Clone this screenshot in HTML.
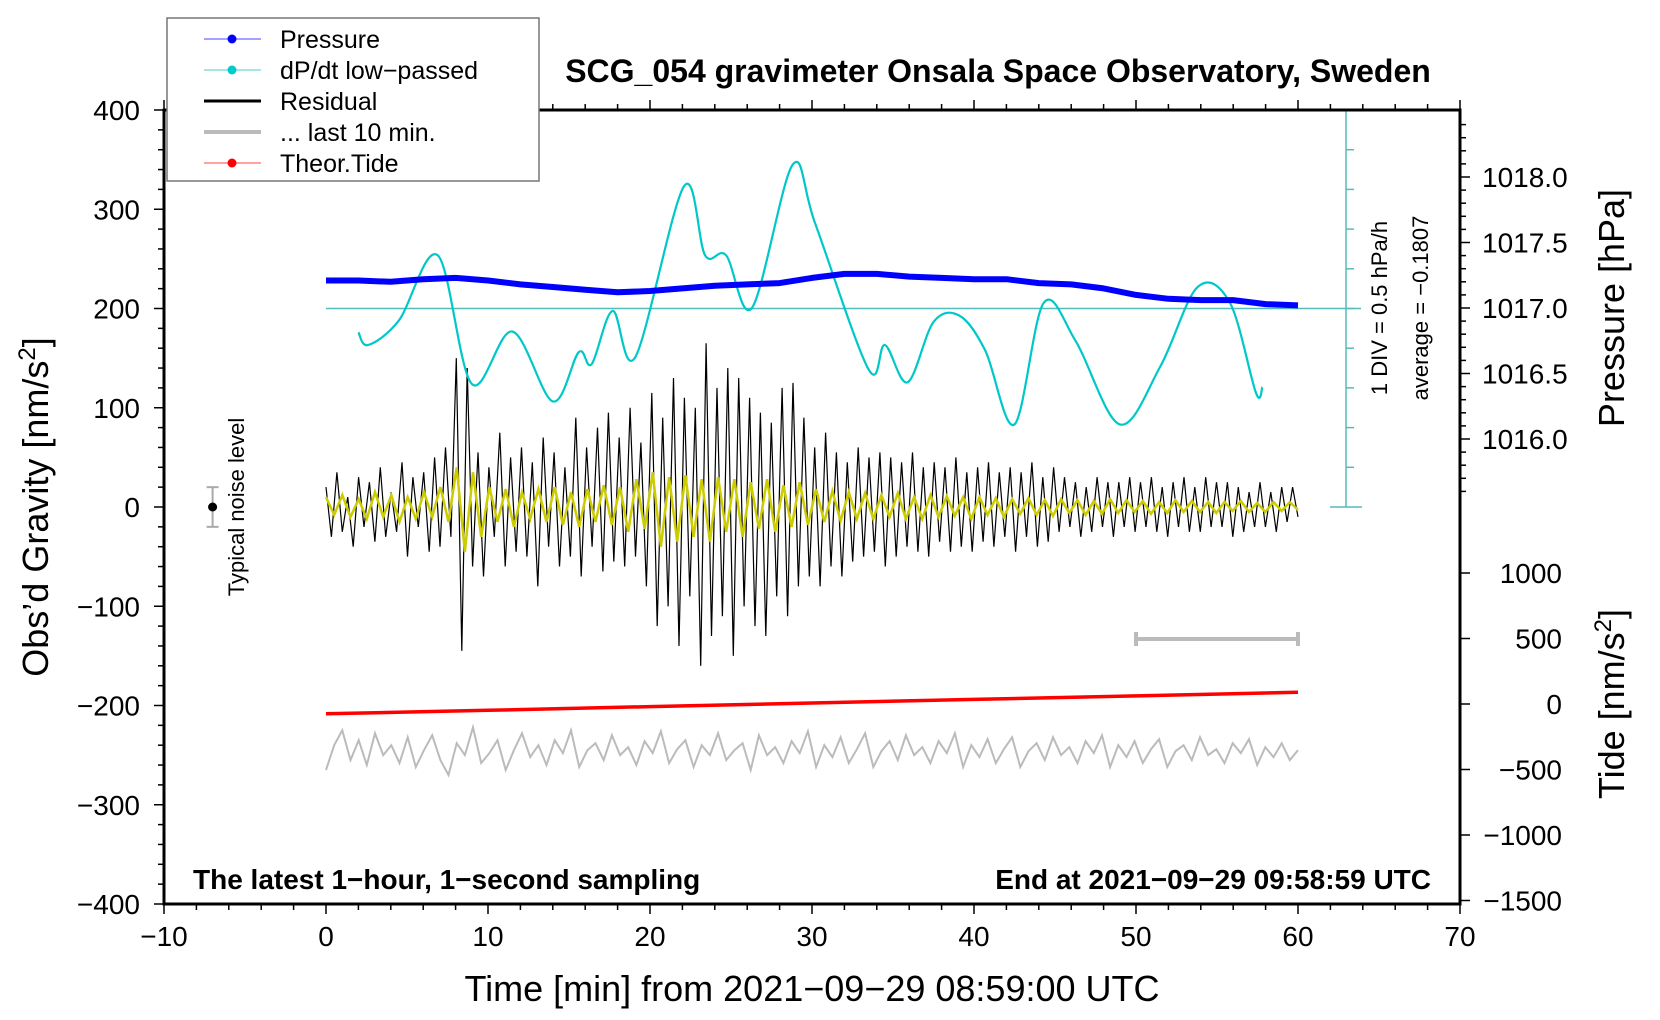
<!DOCTYPE html>
<html><head><meta charset="utf-8"><style>
body{margin:0;background:#fff;}
svg{display:block;font-family:"Liberation Sans",sans-serif;}
</style></head><body>
<svg id="chart" width="1660" height="1020" viewBox="0 0 1660 1020">
<g id="marks"></g>
</svg>
<script>
const xTicks=[-10,0,10,20,30,40,50,60,70];
const gTicks=[400,300,200,100,0,-100,-200,-300,-400];
const pTicks=[1018.0,1017.5,1017.0,1016.5,1016.0];
const tTicks=[1000,500,0,-500,-1000,-1500];
const pressure=[1017.21,1017.21,1017.20,1017.22,1017.23,1017.21,1017.18,1017.16,1017.14,1017.12,1017.13,1017.15,1017.17,1017.18,1017.19,1017.23,1017.26,1017.26,1017.24,1017.23,1017.22,1017.22,1017.19,1017.18,1017.15,1017.10,1017.07,1017.06,1017.06,1017.03,1017.02];
const dpdtTime=[2.0,2.6,4.5,6.9,9.0,11.5,14.0,15.6,16.4,17.7,19.1,22.1,23.4,24.7,26.3,28.8,30.2,33.5,34.5,35.9,37.5,39.1,40.7,42.5,44.3,46.3,49.0,51.5,53.8,55.8,57.4,57.8];
const dpdt=[-0.30,-0.46,-0.15,0.67,-0.95,-0.29,-1.17,-0.55,-0.70,-0.03,-0.61,1.54,0.67,0.67,0.01,1.81,1.07,-0.77,-0.46,-0.93,-0.17,-0.09,-0.53,-1.46,0.07,-0.42,-1.46,-0.73,0.27,0.07,-1.06,-0.99];
const residual=[20,-30,35,-25,10,-40,30,-20,25,-35,40,-30,15,-25,45,-50,30,-20,35,-45,50,-40,60,-30,
150,-145,140,
-60,55,-70,40,-30,75,-60,50,-45,
60,-50,45,-80,70,-40,55,-60,40,
-50,90,-70,60,-40,80,-65,95,-55,
70,-60,100,-50,65,-80,
115,-120,90,-100,130,-140,110,-90,100,
-160,165,-130,120,-110,140,-150,130,-100,
110,-120,95,-130,85,-90,
120,-110,125,-80,90,-70,
60,-80,75,-60,55,-70,45,-55,60,-50,50,-45,55,-60,50,
-50,45,-40,55,-45,40,-50,45,-35,40,-45,50,-40,35,-45,
40,-35,45,-40,35,-30,40,-45,35,-30,45,-40,30,-35,40,
-25,30,-20,25,-30,20,-25,30,-20,25,-30,25,-20,30,-25,
25,-20,30,-25,20,-30,25,-20,30,-25,20,-25,30,-20,25,
-20,25,-30,20,-25,15,-20,25,-20,15,-25,20,-15,20,-10];
const filtered=[10,-8,12,-10,8,-12,15,-10,12,-15,10,-12,15,-10,20,-15,
40,-45,35,-30,
20,-15,18,-20,15,-12,18,-15,20,-18,15,-20,18,-15,22,-18,20,-25,28,-22,
35,-40,30,-35,32,-30,28,-35,30,-25,28,-30,25,-22,28,-25,22,-20,25,-18,
18,-15,16,-14,15,-12,14,-12,12,-10,14,-12,10,-12,12,-10,11,-9,10,-12,
10,-8,9,-10,8,-7,9,-8,7,-9,8,-6,7,-8,6,-7,8,-6,7,-5,6,-7,5,-6,7,-5,6,-5,5,-6,5,-4,6,-5,4,-5,5,-4,5,-3];
const last10=[-265,-240,-225,-255,-235,-260,-228,-250,-240,-258,-232,-262,-245,-230,-255,-270,-238,-250,-222,-258,-248,-235,-265,-245,-228,-252,-240,-260,-235,-248,-225,-262,-245,-238,-255,-230,-250,-242,-260,-236,-248,-226,-258,-244,-235,-262,-240,-250,-228,-255,-245,-238,-265,-230,-250,-242,-258,-236,-248,-226,-262,-240,-252,-232,-258,-244,-228,-262,-246,-236,-255,-230,-250,-242,-258,-236,-248,-228,-262,-240,-252,-234,-258,-244,-232,-262,-246,-238,-255,-232,-250,-242,-258,-236,-248,-230,-262,-240,-252,-236,-258,-244,-234,-262,-246,-240,-255,-232,-250,-244,-258,-238,-248,-234,-260,-242,-252,-238,-255,-245];
const tideTime=[0,10,20,30,40,50,60];
const tide=[-75,-48,-20,8,35,62,90];

const X0=164,X1=1460,Y0=110,Y1=904;
const xs=m=>326+m*16.2;
const yg=g=>507-g*0.9925;
const yp=p=>308-(p-1017)*131;
const yt=t=>704-t*0.131;
const yd=v=>yg(200+v*80);
const NS="http://www.w3.org/2000/svg";
const svg=document.getElementById('chart');
function el(tag,attrs,parent,txt){const e=document.createElementNS(NS,tag);for(const k in attrs)e.setAttribute(k,attrs[k]);if(txt!==undefined)e.textContent=txt;(parent||svg).appendChild(e);return e;}
function poly(pts){return pts.map(p=>p[0].toFixed(1)+','+p[1].toFixed(1)).join(' ');}
function smooth(pts){let d='M'+pts[0][0]+','+pts[0][1];for(let i=0;i<pts.length-1;i++){const p0=pts[Math.max(0,i-1)],p1=pts[i],p2=pts[i+1],p3=pts[Math.min(pts.length-1,i+2)];const c1=[p1[0]+(p2[0]-p0[0])/6,p1[1]+(p2[1]-p0[1])/6],c2=[p2[0]-(p3[0]-p1[0])/6,p2[1]-(p3[1]-p1[1])/6];d+=` C${c1[0].toFixed(1)},${c1[1].toFixed(1)} ${c2[0].toFixed(1)},${c2[1].toFixed(1)} ${p2[0].toFixed(1)},${p2[1].toFixed(1)}`;}return d;}

let e;
e=el('line',{x1:326,y1:yg(200),x2:1361,y2:yg(200),stroke:'#55bbbb','stroke-width':1.5});


const sc=el('g',{stroke:'#55bbbb','stroke-width':1.5});


el('line',{x1:1346,y1:Y0,x2:1346,y2:yg(0)},sc);
el('line',{x1:1330,y1:Y0,x2:1362,y2:Y0},sc);
el('line',{x1:1330,y1:yg(0),x2:1362,y2:yg(0)},sc);
for(let g=-200;g<=200;g+=40){if(Math.abs(g)===200)continue;el('line',{x1:1346,y1:yg(200+g),x2:1354,y2:yg(200+g)},sc);}

const resPts=residual.map((v,i)=>[xs(i*60/(residual.length-1)),yg(v)]);
e=el('polyline',{points:poly(resPts),fill:'none',stroke:'#000','stroke-width':1.2});


const filPts=filtered.map((v,i)=>[xs(i*60/(filtered.length-1)),yg(v)]);
e=el('polyline',{points:poly(filPts),fill:'none',stroke:'#cccc00','stroke-width':2.5});


const grPts=last10.map((v,i)=>[xs(i*60/(last10.length-1)),yg(v)]);
e=el('polyline',{points:poly(grPts),fill:'none',stroke:'#bbbbbb','stroke-width':2});


e=el('polyline',{points:poly(tide.map((v,i)=>[xs(tideTime[i]),yt(v)])),fill:'none',stroke:'#ff0000','stroke-width':3.5});


e=el('path',{d:smooth(dpdt.map((v,i)=>[xs(dpdtTime[i]),yd(v)])),fill:'none',stroke:'#00c8c8','stroke-width':2.2});


const prPts=pressure.map((v,i)=>[xs(i*2),yp(v)]);
e=el('polyline',{points:poly(prPts),fill:'none',stroke:'#0000ff','stroke-width':6,'stroke-linejoin':'round'});



const gb=el('g',{stroke:'#bbbbbb','stroke-width':4});


el('line',{x1:xs(50),y1:yg(-133),x2:xs(60),y2:yg(-133)},gb);
el('line',{x1:xs(50),y1:yg(-133)-7,x2:xs(50),y2:yg(-133)+7},gb);
el('line',{x1:xs(60),y1:yg(-133)-7,x2:xs(60),y2:yg(-133)+7},gb);
const nl=el('g',{});


el('line',{x1:xs(-7),y1:yg(20),x2:xs(-7),y2:yg(-20),stroke:'#aaa','stroke-width':2},nl);
el('line',{x1:xs(-7)-6,y1:yg(20),x2:xs(-7)+6,y2:yg(20),stroke:'#aaa','stroke-width':2},nl);
el('line',{x1:xs(-7)-6,y1:yg(-20),x2:xs(-7)+6,y2:yg(-20),stroke:'#aaa','stroke-width':2},nl);
el('circle',{cx:xs(-7),cy:yg(0),r:4.5,fill:'#000'},nl);

e=el('rect',{x:X0,y:Y0,width:X1-X0,height:Y1-Y0,fill:'none',stroke:'#000','stroke-width':3});


const tk=el('g',{stroke:'#000','stroke-width':1.5});


for(let m=-10;m<=70;m+=2){const L=m%10===0?10:6;el('line',{x1:xs(m),y1:Y1,x2:xs(m),y2:Y1+L},tk);el('line',{x1:xs(m),y1:Y0,x2:xs(m),y2:Y0-L},tk);}
for(let g=-400;g<=400;g+=20){const L=g%100===0?10:6;el('line',{x1:X0,y1:yg(g),x2:X0-L,y2:yg(g)},tk);}
for(let p=1015.6;p<=1018.41;p+=0.1){const r=Math.round(p*10);const L=r%5===0?10:6;el('line',{x1:X1,y1:yp(r/10),x2:X1+L,y2:yp(r/10)},tk);}
for(let t=-1500;t<=1000;t+=500){el('line',{x1:X1,y1:yt(t),x2:X1+10,y2:yt(t)},tk);}

const lab=el('g',{'font-size':28,fill:'#000'});
xTicks.forEach(v=>{const t=el('text',{x:xs(v),y:946,'text-anchor':'middle'},lab,v<0?'\u2212'+(-v):v);});
gTicks.forEach(v=>{const t=el('text',{x:140,y:yg(v)+10,'text-anchor':'end'},lab,v<0?'\u2212'+(-v):v);});
pTicks.forEach(v=>{const t=el('text',{x:1482,y:yp(v)+10},lab,v.toFixed(1));});
tTicks.forEach(v=>{const t=el('text',{x:1562,y:yt(v)+10,'text-anchor':'end'},lab,v<0?'\u2212'+(-v):v);});

function txt(attrs,s,name,parent){const t=el('text',attrs,parent,s);return t;}
txt({x:998,y:82,'text-anchor':'middle','font-size':32,'font-weight':'bold'},'SCG_054 gravimeter Onsala Space Observatory, Sweden','chart-title');
txt({x:812,y:1001,'text-anchor':'middle','font-size':36},'Time [min] from 2021\u221209\u221229 08:59:00 UTC','x-axis-title');
txt({x:193,y:889,'font-size':28,'font-weight':'bold'},'The latest 1\u2212hour, 1\u2212second sampling','sampling-note');
txt({x:1431,y:889,'text-anchor':'end','font-size':28,'font-weight':'bold'},'End at 2021\u221209\u221229 09:58:59 UTC','end-time-note');
txt({transform:'translate(48,507) rotate(-90)','text-anchor':'middle','font-size':36},'','y-axis-title').innerHTML='Obs\u2019d Gravity [nm/s<tspan dy="-13" font-size="24">2</tspan><tspan dy="13">]</tspan>';
txt({transform:'translate(1624,308) rotate(-90)','text-anchor':'middle','font-size':36},'Pressure [hPa]','pressure-axis-title');
txt({transform:'translate(1624,704) rotate(-90)','text-anchor':'middle','font-size':36},'','tide-axis-title').innerHTML='Tide [nm/s<tspan dy="-13" font-size="24">2</tspan><tspan dy="13">]</tspan>';
txt({transform:'translate(244,507) rotate(-90)','text-anchor':'middle','font-size':22},'Typical noise level','noise-level-label');
txt({transform:'translate(1387,308) rotate(-90)','text-anchor':'middle','font-size':22},'1 DIV = 0.5 hPa/h','dpdt-scale-label');
txt({transform:'translate(1428,308) rotate(-90)','text-anchor':'middle','font-size':22},'average = \u22120.1807','dpdt-average-label');

const lg=el('g',{});


el('rect',{x:167,y:18,width:372,height:163,fill:'#fff',stroke:'#777','stroke-width':1.5},lg);
const items=[['Pressure','#4444ff',1,true],['dP/dt low\u2212passed','#44cccc',1,true],['Residual','#000',3,false],['... last 10 min.','#bbb',4,false],['Theor.Tide','#ff4444',1,true]];
const dots=['#0000ff','#00cccc','','','#ff0000'];
items.forEach((it,i)=>{const y=39+i*31;const g=el('g',{},lg);
el('line',{x1:204,y1:y,x2:261,y2:y,stroke:it[1],'stroke-width':it[2]},g);
if(it[3])el('circle',{cx:232,cy:y,r:4.5,fill:dots[i]},g);
el('text',{x:280,y:y+9,'font-size':25},g,it[0]);});
</script>
</body></html>
